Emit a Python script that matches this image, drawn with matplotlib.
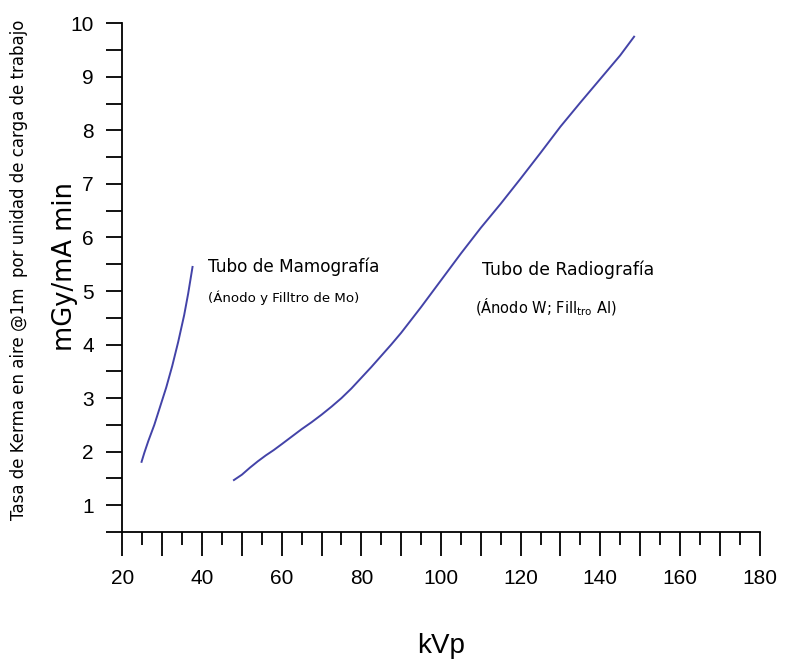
import numpy as np
import matplotlib
matplotlib.use("Agg")
import matplotlib.pyplot as plt

plt.rcParams['font.family'] = ['Liberation Sans', 'DejaVu Sans']
plt.rcParams['mathtext.fontset'] = 'custom'
plt.rcParams['mathtext.rm'] = 'DejaVu Sans'

# Mammography tube (Mo anode / Mo filter)
mamo_kvp = [24.8, 25.5, 26.5, 28, 29.5, 31, 32.5, 34, 35.5, 36.5, 37.6]
mamo_kerma = [1.81, 1.98, 2.2, 2.5, 2.85, 3.2, 3.6, 4.05, 4.55, 4.95, 5.45]

# Radiography tube (W anode / Al filter)
radio_kvp = [48, 50, 52, 54, 56, 58, 60, 62.5, 65, 67.5, 70, 72.5, 75, 77.5,
             80, 82.5, 85, 87.5, 90, 92.5, 95, 97.5, 100, 105, 110, 115, 120,
             125, 130, 135, 140, 145, 148.5]
radio_kerma = [1.47, 1.57, 1.7, 1.82, 1.93, 2.03, 2.14, 2.28, 2.42, 2.55, 2.69,
               2.84, 3.0, 3.18, 3.38, 3.58, 3.79, 4.0, 4.22, 4.46, 4.7, 4.95, 5.2,
               5.7, 6.18, 6.63, 7.1, 7.58, 8.07, 8.52, 8.96, 9.4, 9.75]

x_labels = [20, 40, 60, 80, 100, 120, 140, 160, 180]
y_labels = [1, 2, 3, 4, 5, 6, 7, 8, 9, 10]

line_color = '#4343a8'

fig = plt.figure(figsize=(7.9, 6.62), dpi=100)
ax = fig.add_axes([0.155, 0.1964, 0.8064, 0.7684])

ax.plot(mamo_kvp, mamo_kerma, color=line_color, lw=1.4)
ax.plot(radio_kvp, radio_kerma, color=line_color, lw=1.4)

ax.set_xlim(20, 180)
ax.set_ylim(0.5, 10)

ax.spines['top'].set_visible(False)
ax.spines['right'].set_visible(False)
for s in ['left', 'bottom']:
    ax.spines[s].set_linewidth(1.3)

# y ticks every 0.5, labels only on integers
yt = np.arange(0.5, 10.01, 0.5)
ax.set_yticks(yt)
ax.set_yticklabels([str(int(v)) if v in y_labels else '' for v in yt])
ax.tick_params(axis='y', direction='out', length=11.5, width=1.3, pad=9, labelsize=15)

# x major ticks every 10, minor every 5
ax.set_xticks(np.arange(20, 181, 10))
ax.set_xticklabels([str(v) if v in x_labels else '' for v in range(20, 181, 10)])
ax.set_xticks(np.arange(25, 180, 10), minor=True)
ax.tick_params(axis='x', which='major', direction='out', length=17, width=1.3, pad=10, labelsize=15)
ax.tick_params(axis='x', which='minor', direction='out', length=9.4, width=1.3)

ax.set_xlabel('kVp', fontsize=20, labelpad=32)

# y labels
fig.text(0.082, 0.598, 'mGy/mA min', rotation=90, ha='center', va='center',
         fontsize=18.5, family='DejaVu Sans')
fig.text(0.024, 0.592, 'Tasa de Kerma en aire @1m  por unidad de carga de trabajo',
         rotation=90, ha='center', va='center', fontsize=12, family='DejaVu Sans')

# annotations
ax.text(41.6, 5.45, 'Tubo de Mamografía', fontsize=12.2, family='DejaVu Sans',
        ha='left', va='center')
ax.text(41.6, 4.88, '(Ánodo y Filltro de Mo)', fontsize=9.6, family='DejaVu Sans',
        ha='left', va='center')
ax.text(110.2, 5.4, 'Tubo de Radiografía', fontsize=12.4, family='DejaVu Sans',
        ha='left', va='center')
ax.text(108.5, 4.7, r'(Ánodo W; Fill$_{\mathrm{tro}}$ Al)', fontsize=10.5,
        family='DejaVu Sans', ha='left', va='center')

fig.savefig('out.png', dpi=100)
